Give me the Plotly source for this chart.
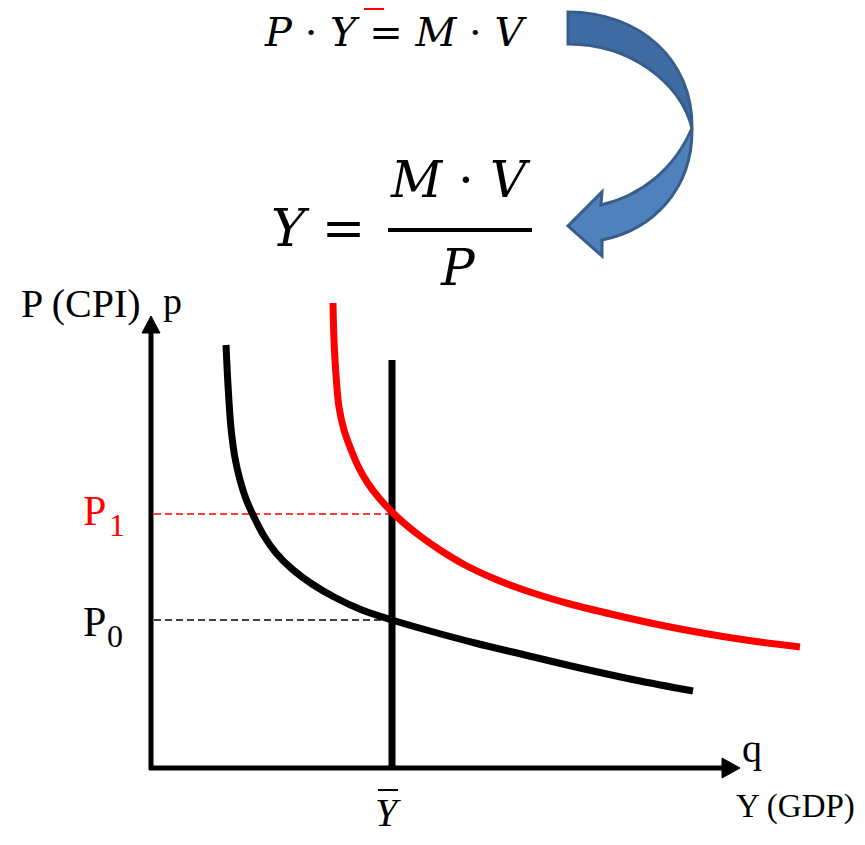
import plotly.graph_objects as go

# curves (pixel-like coordinates, y grows downward)
ad0_x = [226, 228, 231, 235, 240, 246, 254, 264, 276, 292, 312, 336, 362, 392, 430, 475, 525, 580, 635, 693]
ad0_y = [345, 385, 428, 458, 480, 499, 517, 536, 553, 569, 584, 598, 610, 620, 631, 643, 655, 668, 680, 691]

ad1_x = [333, 334, 336, 339, 344, 350, 358, 367, 379, 392, 405, 420, 440, 465, 495, 530, 570, 615, 665, 720, 760, 800]
ad1_y = [303, 340, 375, 407, 430, 447, 466, 482, 498, 512, 524, 536, 550, 565, 579, 592, 604, 615, 626, 636, 642, 647]

lras_x = 392
lras_top, lras_bottom = 360, 768
p1_level = 514
p0_level = 620
origin_x, origin_y = 151, 768
yaxis_tip, xaxis_tip = 316, 740

fig = go.Figure()

# axes
fig.add_trace(go.Scatter(x=[origin_x, origin_x], y=[origin_y + 2, yaxis_tip + 14], mode='lines',
                         line=dict(color='black', width=5), hoverinfo='skip'))
fig.add_trace(go.Scatter(x=[origin_x - 2, xaxis_tip - 14], y=[origin_y, origin_y], mode='lines',
                         line=dict(color='black', width=5), hoverinfo='skip'))
fig.add_trace(go.Scatter(x=[origin_x - 9, origin_x, origin_x + 9, origin_x - 9],
                         y=[yaxis_tip + 17, yaxis_tip, yaxis_tip + 17, yaxis_tip + 17],
                         mode='lines', fill='toself', fillcolor='black', line=dict(color='black', width=1),
                         hoverinfo='skip'))
fig.add_trace(go.Scatter(x=[xaxis_tip - 18, xaxis_tip, xaxis_tip - 18, xaxis_tip - 18],
                         y=[origin_y - 10, origin_y, origin_y + 10, origin_y - 10],
                         mode='lines', fill='toself', fillcolor='black', line=dict(color='black', width=1),
                         hoverinfo='skip'))

# dashed price levels
fig.add_trace(go.Scatter(x=[origin_x + 3, lras_x], y=[p1_level, p1_level], mode='lines',
                         line=dict(color='red', width=1.5, dash='7px,4px'), hoverinfo='skip'))
fig.add_trace(go.Scatter(x=[origin_x + 3, lras_x], y=[p0_level, p0_level], mode='lines',
                         line=dict(color='black', width=1.5, dash='7px,4px'), hoverinfo='skip'))

# long-run supply
fig.add_trace(go.Scatter(x=[lras_x, lras_x], y=[lras_top, lras_bottom], mode='lines',
                         line=dict(color='black', width=7), hoverinfo='skip'))

# demand curves
fig.add_trace(go.Scatter(x=ad0_x, y=ad0_y, mode='lines', line=dict(color='black', width=7, shape='spline'),
                         hoverinfo='skip'))
fig.add_trace(go.Scatter(x=ad1_x, y=ad1_y, mode='lines', line=dict(color='red', width=7, shape='spline'),
                         hoverinfo='skip'))

# curved arrow
arrow_top = 'M 568,12 C 640,12 693,60 692,128 C 680,82 630,44 568,44 Z'
arrow_bottom = 'M 692,128 C 693,190 652,230 602,240 L 602,256 L 568,226 L 602,192 L 601,205 C 640,196 674,170 692,128 Z'
fig.add_shape(type='path', path=arrow_top, xref='x', yref='y', fillcolor='#3f6ba3',
              line=dict(color='#385d8a', width=3))
fig.add_shape(type='path', path=arrow_bottom, xref='x', yref='y', fillcolor='#4f81bd',
              line=dict(color='#385d8a', width=3))

# fraction bar, red tick at the top edge, Y-bar overline
fig.add_shape(type='line', x0=388, x1=532, y0=230, y1=230, xref='x', yref='y', line=dict(color='black', width=4))
fig.add_shape(type='rect', x0=364, x1=384, y0=8, y1=10, xref='x', yref='y', fillcolor='red', line=dict(width=0))
fig.add_shape(type='line', x0=378, x1=398, y0=790, y1=790, xref='x', yref='y', line=dict(color='black', width=2))

math = 'DejaVu Serif'
serif = 'Liberation Serif'
texts = [
    (396, 8, '<i>P</i> · <i>Y</i> = <i>M</i> · <i>V</i>', math, 40, 'black', 'center', 'top'),
    (318, 228, '<i>Y</i> =', math, 52, 'black', 'center', 'middle'),
    (460, 180, '<i>M</i> · <i>V</i>', math, 50, 'black', 'center', 'middle'),
    (458, 268, '<i>P</i>', math, 50, 'black', 'center', 'middle'),
    (20, 303, 'P (CPI)', serif, 40, 'black', 'left', 'middle'),
    (162, 301, 'p', serif, 38, 'black', 'left', 'middle'),
    (82, 511, 'P', serif, 42, 'red', 'left', 'middle'),
    (108, 525, '1', serif, 32, 'red', 'left', 'middle'),
    (82, 622, 'P', serif, 42, 'black', 'left', 'middle'),
    (106, 636, '0', serif, 32, 'black', 'left', 'middle'),
    (388, 812, '<i>Y</i>', serif, 40, 'black', 'center', 'middle'),
    (741, 748, 'q', serif, 40, 'black', 'left', 'middle'),
    (735, 806, 'Y (GDP)', serif, 33, 'black', 'left', 'middle'),
]
for x, y, t, fam, size, color, anchor, vanchor in texts:
    fig.add_annotation(x=x, y=y, text=t, showarrow=False, xanchor=anchor, yanchor=vanchor, borderpad=0,
                       font=dict(family=fam, size=size, color=color))

# page body has an 8px margin, so the plot starts 8px in
fig.update_xaxes(range=[8, 865], visible=False)
fig.update_yaxes(range=[845, 8], visible=False)
fig.update_layout(width=857, height=837, margin=dict(l=0, r=0, t=0, b=0), showlegend=False,
                  plot_bgcolor='white', paper_bgcolor='white')

fig.write_html("out.html")
